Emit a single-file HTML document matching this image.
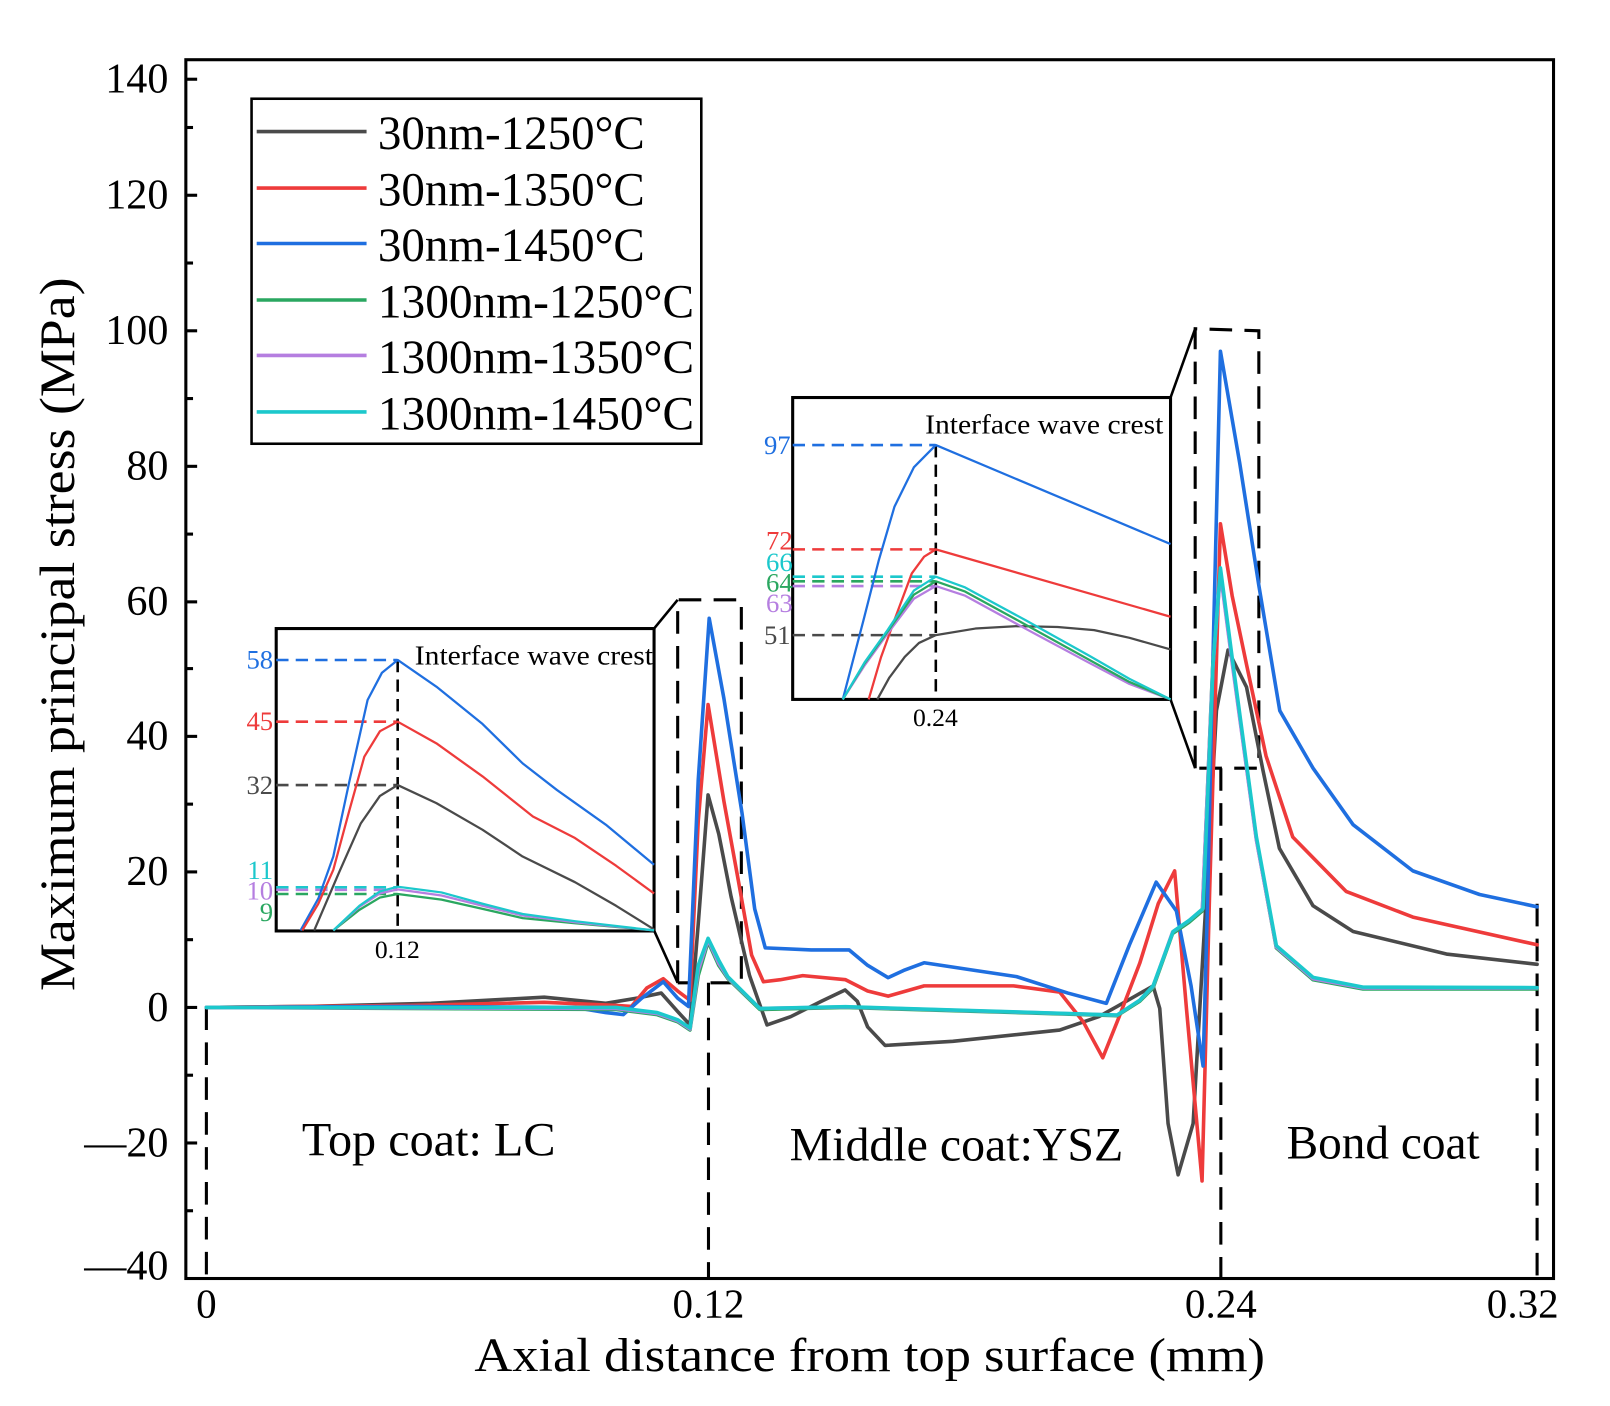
<!DOCTYPE html>
<html><head><meta charset="utf-8"><style>
html,body{margin:0;padding:0;background:#fff}
svg{display:block}
text{font-family:"Liberation Serif",serif}
</style></head><body>
<svg width="1610" height="1406" viewBox="0 0 1568 1369" xmlns="http://www.w3.org/2000/svg">
<rect width="1568" height="1369" fill="#fff"/>
<rect x="181" y="58" width="1332" height="1187" fill="none" stroke="#000" stroke-width="3"/>
<g stroke="#000" stroke-width="3">
<line x1="181" y1="77" x2="192" y2="77"/><line x1="181" y1="124" x2="188" y2="124"/>
<line x1="181" y1="190" x2="192" y2="190"/><line x1="181" y1="256" x2="188" y2="256"/>
<line x1="181" y1="322" x2="192" y2="322"/><line x1="181" y1="388" x2="188" y2="388"/>
<line x1="181" y1="454" x2="192" y2="454"/><line x1="181" y1="520" x2="188" y2="520"/>
<line x1="181" y1="586" x2="192" y2="586"/><line x1="181" y1="651" x2="188" y2="651"/>
<line x1="181" y1="717" x2="192" y2="717"/><line x1="181" y1="783" x2="188" y2="783"/>
<line x1="181" y1="849" x2="192" y2="849"/><line x1="181" y1="915" x2="188" y2="915"/>
<line x1="181" y1="981" x2="192" y2="981"/><line x1="181" y1="1047" x2="188" y2="1047"/>
<line x1="181" y1="1113" x2="192" y2="1113"/><line x1="181" y1="1179" x2="188" y2="1179"/>
</g>
<g font-size="41" text-anchor="end" fill="#000">
<text x="164" y="90">140</text><text x="164" y="203">120</text><text x="164" y="335">100</text>
<text x="164" y="467">80</text><text x="164" y="599">60</text><text x="164" y="730">40</text>
<text x="164" y="862">20</text><text x="164" y="994">0</text>
<text x="164" y="1126">—20</text><text x="164" y="1246">—40</text>
</g>
<g font-size="40" text-anchor="middle">
<text x="201" y="1283">0</text><text x="690" y="1283">0.12</text><text x="1189" y="1283">0.24</text><text x="1483" y="1283">0.32</text>
</g>
<text x="462" y="1335" font-size="46" textLength="770" lengthAdjust="spacingAndGlyphs">Axial distance from top surface (mm)</text>
<text transform="translate(72,965) rotate(-90)" font-size="48" textLength="695" lengthAdjust="spacingAndGlyphs">Maximum principal stress (MPa)</text>
<text x="294" y="1125" font-size="46" textLength="247" lengthAdjust="spacingAndGlyphs">Top coat: LC</text>
<text x="769" y="1130" font-size="46" textLength="325" lengthAdjust="spacingAndGlyphs">Middle coat:YSZ</text>
<text x="1253" y="1128" font-size="46" textLength="188" lengthAdjust="spacingAndGlyphs">Bond coat</text>
<g stroke="#000" stroke-width="3" stroke-dasharray="22,12" fill="none">
<line x1="201" y1="981" x2="201" y2="1245"/>
<line x1="690" y1="957" x2="690" y2="1245"/>
<line x1="1189" y1="748" x2="1189" y2="1245"/>
<line x1="1497" y1="880" x2="1497" y2="1245"/>
<polyline points="660,957 660,584 722,584 722,957 660,957"/>
<polyline points="1164,748 1164,320 1226,322 1226,748 1164,748"/>
</g>
<g fill="none" stroke-width="3.5" stroke-linejoin="round" stroke-linecap="round">
<polyline stroke="#4a4a4a" points="201,981 300,980 420,977 530,971 590,977 620,972 644,967 660,985 672,998 680,900 689.6,774 700,812 712,873 730,950 747,998 770,990 800,975 823,964 835,975 845,1000 862,1018 928,1014 1032,1003 1070,990 1088,980 1123,960 1129.5,982 1137.6,1094 1147.4,1144 1162,1094 1175,870 1184.7,692 1196,633 1214,669 1230,750 1246,826 1278.8,882 1317.8,907 1408.7,929 1497,939"/>
<polyline stroke="#ee3b3b" points="201,981 400,979 530,976 600,979 615,980 630,962 646,953 660,965 672,974 680,800 689.6,686 705,780 719,857 732,930 743.5,956 760,954 781.8,950 823.5,954 845,965 865,970 900,960 987,960 1032,966 1055,995 1074,1030 1090,990 1110,938 1128,880 1144,848 1155.5,982 1170.7,1150 1178,871 1188.6,510 1200,580 1214,647 1233,736 1259,815 1311,868 1376,893 1497,920"/>
<polyline stroke="#1f6fe0" points="201,981 400,980 560,981 590,986 607,988 625,972 646,956 660,972 670.5,980 680,760 690.7,602 705,680 722.7,792 735,885 745.3,923 790,925 827,925 845,940 865,952 880,945 900,937.5 950,945 990,951 1040,967 1077.5,977 1100,920 1126,859 1145.7,887 1160,960 1171.7,1038 1176,880 1179.8,703 1188.6,342 1207.4,451 1226,570 1246.4,692 1278.8,748 1317.8,803 1376,848 1441,871 1497,883"/>
<polyline stroke="#2aa760" points="201,981 600,983 640,988 660,995 672,1003 680,950 689.6,917 700,940 709,953 740,983 823,981 1088,989 1110,975 1123,962 1142,909 1158,898 1171,887 1181,650 1188.6,556 1200.9,650 1223.6,817 1243,923 1278.8,954 1327.5,963 1497,963"/>
<polyline stroke="#b57ee0" points="201,981 600,982 640,987 660,994 672,1002 680,945 689.6,915 700,938 709,952 740,982 823,980.5 1088,988.5 1110,974 1123,960.5 1142,907.5 1158,896.5 1171,885.5 1181,652 1188.6,558 1200.9,652 1223.6,818 1243,922 1278.8,953 1327.5,962 1497,962"/>
<polyline stroke="#1cc8cc" points="201,981 600,981 640,986 660,993 672,1001 680,940 689.6,913.7 700,935 708.8,951 740,982 823.5,980.3 1088,988.4 1110,974 1123,960 1142.5,907 1158.7,895.8 1171.7,884.6 1181.4,647 1188.6,553 1200.9,647 1223.6,814.7 1243.1,920.9 1278.8,951.7 1327.5,961.2 1497,961.7"/>
</g>
<rect x="269" y="612" width="368" height="294.5" fill="#fff" stroke="#000" stroke-width="3"/>
<g stroke="#000" stroke-width="2.5"><line x1="637" y1="612" x2="660" y2="584"/><line x1="637" y1="906" x2="660" y2="957"/></g>
<g stroke-width="2.5" stroke-dasharray="12,7" fill="none">
<line x1="269" y1="642.6" x2="387" y2="642.6" stroke="#1f6fe0"/>
<line x1="269" y1="702.7" x2="387" y2="702.7" stroke="#ee3b3b"/>
<line x1="269" y1="764.4" x2="387" y2="764.4" stroke="#4a4a4a"/>
<line x1="269" y1="864" x2="387" y2="864" stroke="#1cc8cc"/>
<line x1="269" y1="866.5" x2="387" y2="866.5" stroke="#b57ee0"/>
<line x1="269" y1="870.5" x2="387" y2="870.5" stroke="#2aa760"/>
<line x1="387.3" y1="642.6" x2="387.3" y2="906" stroke="#000"/>
</g>
<g fill="none" stroke-width="2.2" stroke-linejoin="round">
<polyline stroke="#1f6fe0" points="292.7,906 310,875 324.6,834 340,762 358,681.6 372,655 387.3,642.6 425,668.6 470,705 509,743.3 542.5,769.3 590,803 637,842"/>
<polyline stroke="#ee3b3b" points="294.4,906 310,880 324.6,847 340,790 354.8,736.8 370,712 387.3,702.7 425,723.8 470,756 519,795 560,816 600,843 637,870"/>
<polyline stroke="#4a4a4a" points="306,906 330,850 351.4,801.7 370,775 387.3,764.4 425,782 470,808 509,834 560,859 600,882 637,905"/>
<polyline stroke="#2aa760" points="324.6,906 350,886 370,874 387.3,870.5 430,876 470,885 509,894 560,899 637,906"/>
<polyline stroke="#b57ee0" points="324.6,906 350,883 370,870 387.3,866 430,872 470,882 509,891.5 560,898 637,906"/>
<polyline stroke="#1cc8cc" points="324.6,906 350,882 370,868 387.3,863.4 430,869 470,880 509,890 560,897 637,906"/>
</g>
<text x="404" y="647" font-size="27" textLength="232" lengthAdjust="spacingAndGlyphs">Interface wave crest</text>
<text x="387" y="933" font-size="25" text-anchor="middle">0.12</text>
<g font-size="26" text-anchor="end">
<text x="266" y="651" fill="#1f6fe0">58</text>
<text x="266" y="711" fill="#ee3b3b">45</text>
<text x="266" y="773" fill="#4a4a4a">32</text>
<text x="266" y="856" fill="#1cc8cc">11</text>
<text x="266" y="876" fill="#b57ee0">10</text>
<text x="266" y="897" fill="#2aa760">9</text>
</g>
<rect x="772" y="387" width="368" height="294" fill="#fff" stroke="#000" stroke-width="3"/>
<g stroke="#000" stroke-width="2.5"><line x1="1140" y1="387" x2="1164" y2="320"/><line x1="1140" y1="681" x2="1164" y2="748"/></g>
<g stroke-width="2.5" stroke-dasharray="12,7" fill="none">
<line x1="772" y1="433.3" x2="911" y2="433.3" stroke="#1f6fe0"/>
<line x1="772" y1="534.9" x2="911" y2="534.9" stroke="#ee3b3b"/>
<line x1="772" y1="561.5" x2="911" y2="561.5" stroke="#1cc8cc"/>
<line x1="772" y1="566" x2="911" y2="566" stroke="#2aa760"/>
<line x1="772" y1="570.6" x2="911" y2="570.6" stroke="#b57ee0"/>
<line x1="772" y1="618.4" x2="911" y2="618.4" stroke="#4a4a4a"/>
<line x1="911.4" y1="433.3" x2="911.4" y2="681" stroke="#000"/>
</g>
<g fill="none" stroke-width="2.2" stroke-linejoin="round">
<polyline stroke="#1f6fe0" points="820.8,681 841,603.7 856,545 871.1,493.4 890,455 911.4,433.3 1140,529.7"/>
<polyline stroke="#ee3b3b" points="846,681 858,640 871.1,603.7 888,558.3 900,542 911.4,534.9 1140,600.5"/>
<polyline stroke="#4a4a4a" points="854.4,681 866,660 881.2,639.5 895,626 911.4,618.4 950,612 991.8,609.6 1030,610.5 1065.6,613.5 1100,621 1140,632.3"/>
<polyline stroke="#b57ee0" points="820.8,681 842,648 864.4,617 890,583 911.4,570.6 940,580 998.5,612 1060,645 1100,666 1140,681"/>
<polyline stroke="#2aa760" points="820.8,681 842,646 864.4,615 890,579 911.4,566 940,576 998.5,608 1060,642 1100,664 1140,681"/>
<polyline stroke="#1cc8cc" points="820.8,681 842,645 864.4,613.5 890,575 911.4,561.5 940,572 998.5,603.7 1060,638 1100,661 1140,681"/>
</g>
<text x="901" y="422" font-size="27" textLength="232" lengthAdjust="spacingAndGlyphs">Interface wave crest</text>
<text x="911" y="707" font-size="25" text-anchor="middle">0.24</text>
<g font-size="26" text-anchor="end">
<text x="770" y="442" fill="#1f6fe0">97</text>
<text x="772" y="535" fill="#ee3b3b">72</text>
<text x="772" y="556" fill="#1cc8cc">66</text>
<text x="772" y="576" fill="#2aa760">64</text>
<text x="772" y="596" fill="#b57ee0">63</text>
<text x="770" y="627" fill="#4a4a4a">51</text>
</g>
<rect x="245" y="96" width="438" height="336" fill="#fff" stroke="#000" stroke-width="2.5"/>
<g stroke-width="3.5">
<line x1="250" y1="128" x2="357" y2="128" stroke="#4a4a4a"/>
<line x1="250" y1="183" x2="357" y2="183" stroke="#ee3b3b"/>
<line x1="250" y1="237" x2="357" y2="237" stroke="#1f6fe0"/>
<line x1="250" y1="292" x2="357" y2="292" stroke="#2aa760"/>
<line x1="250" y1="346" x2="357" y2="346" stroke="#b57ee0"/>
<line x1="250" y1="401" x2="357" y2="401" stroke="#1cc8cc"/>
</g>
<g font-size="46">
<text x="368" y="145" textLength="260" lengthAdjust="spacingAndGlyphs">30nm-1250°C</text>
<text x="368" y="200" textLength="260" lengthAdjust="spacingAndGlyphs">30nm-1350°C</text>
<text x="368" y="254" textLength="260" lengthAdjust="spacingAndGlyphs">30nm-1450°C</text>
<text x="368" y="309" textLength="308" lengthAdjust="spacingAndGlyphs">1300nm-1250°C</text>
<text x="368" y="363" textLength="308" lengthAdjust="spacingAndGlyphs">1300nm-1350°C</text>
<text x="368" y="418" textLength="308" lengthAdjust="spacingAndGlyphs">1300nm-1450°C</text>
</g>
</svg>
</body></html>
